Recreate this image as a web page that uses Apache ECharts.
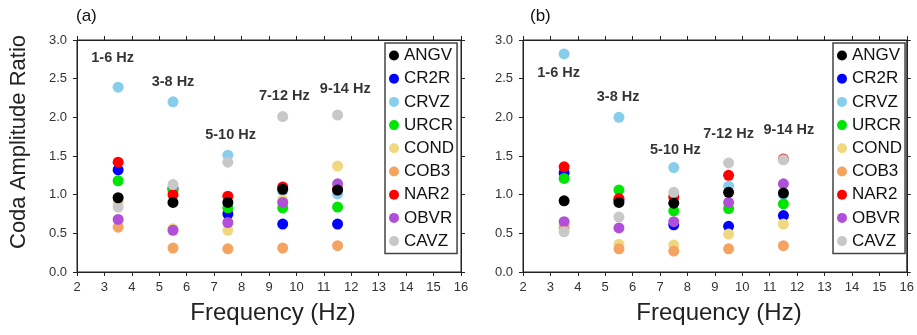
<!DOCTYPE html>
<html>
<head>
<meta charset="utf-8">
<script src="https://cdn.jsdelivr.net/npm/echarts@6/dist/echarts.min.js"></script>
<style>
  html, body { margin: 0; padding: 0; background: #fff; }
  #chart { width: 917px; height: 335px; }
</style>
</head>
<body>
<div id="chart"></div>
<script>
// centre frequencies of the five bands
const freqs = [3.5, 5.5, 7.5, 9.5, 11.5];

const stations = ["ANGV", "CR2R", "CRVZ", "URCR", "COND", "COB3", "NAR2", "OBVR", "CAVZ"];
const colors = ["#000000", "#0000ff", "#87ceeb", "#00e600", "#f0d880", "#f4a460", "#ff0000", "#b050d8", "#c8c8c8"];
// order in which the dots get painted (black ends up on top)
const drawOrder = ["CR2R", "CRVZ", "URCR", "COND", "COB3", "NAR2", "OBVR", "CAVZ", "ANGV"];

// panel (a)
const angvA = [0.96, 0.90, 0.90, 1.07, 1.06];
const cr2rA = [1.32, 1.08, 0.75, 0.62, 0.62];
const crvzA = [2.39, 2.20, 1.51, 1.05, 1.01];
const urcrA = [1.18, 1.05, 0.83, 0.83, 0.84];
const condA = [0.90, 0.56, 0.54, 0.93, 1.37];
const cob3A = [0.58, 0.31, 0.30, 0.31, 0.34];
const nar2A = [1.42, 1.00, 0.98, 1.10, 1.07];
const obvrA = [0.68, 0.54, 0.64, 0.90, 1.14];
const cavzA = [0.84, 1.13, 1.42, 2.01, 2.03];

// panel (b)
const angvB = [0.92, 0.90, 0.89, 1.03, 1.02];
const cr2rB = [1.28, 0.93, 0.61, 0.59, 0.73];
const crvzB = [2.82, 2.00, 1.35, 1.11, 1.00];
const urcrB = [1.21, 1.06, 0.79, 0.82, 0.88];
const condB = [0.59, 0.36, 0.35, 0.49, 0.62];
const cob3B = [0.57, 0.30, 0.27, 0.30, 0.34];
const nar2B = [1.36, 0.95, 0.97, 1.25, 1.46];
const obvrB = [0.65, 0.57, 0.65, 0.90, 1.14];
const cavzB = [0.52, 0.71, 1.03, 1.41, 1.45];

// band labels: [x, y, text]
const bandLabelsA = [[3.3, 2.77, "1-6 Hz"], [5.5, 2.46, "3-8 Hz"], [7.6, 1.77, "5-10 Hz"], [9.56, 2.28, "7-12 Hz"], [11.78, 2.37, "9-14 Hz"]];
const bandLabelsB = [[3.3, 2.57, "1-6 Hz"], [5.47, 2.26, "3-8 Hz"], [7.56, 1.58, "5-10 Hz"], [9.5, 1.79, "7-12 Hz"], [11.7, 1.84, "9-14 Hz"]];

const valuesA = { ANGV: angvA, CR2R: cr2rA, CRVZ: crvzA, URCR: urcrA, COND: condA, COB3: cob3A, NAR2: nar2A, OBVR: obvrA, CAVZ: cavzA };
const valuesB = { ANGV: angvB, CR2R: cr2rB, CRVZ: crvzB, URCR: urcrB, COND: condB, COB3: cob3B, NAR2: nar2B, OBVR: obvrB, CAVZ: cavzB };

const font = "Liberation Sans, Arial, sans-serif";
const axisColor = "#222";

function xAxisFor(gridIndex, position) {
  return {
    type: "value", gridIndex, min: 2, max: 16, interval: 1, position,
    axisLine: { show: true, onZero: false, lineStyle: { color: axisColor, width: 1 } },
    axisTick: { show: true, length: 4, lineStyle: { color: axisColor } },
    axisLabel: { show: position === "bottom", color: "#333", fontSize: 13, fontFamily: font, margin: 9 },
    splitLine: { show: false }
  };
}
function yAxisFor(gridIndex, position) {
  return {
    type: "value", gridIndex, min: 0, max: 3, interval: 0.5, position,
    axisLine: { show: true, onZero: false, lineStyle: { color: axisColor, width: 1 } },
    axisTick: { show: true, length: 4, lineStyle: { color: axisColor } },
    axisLabel: { show: position === "left", color: "#333", fontSize: 13, fontFamily: font, margin: 10, formatter: v => v.toFixed(1) },
    splitLine: { show: false }
  };
}

function stationSeries(values, xIdx, yIdx) {
  return drawOrder.map(name => ({
    name, type: "scatter", xAxisIndex: xIdx, yAxisIndex: yIdx,
    symbol: "circle", symbolSize: 11,
    itemStyle: { color: colors[stations.indexOf(name)], opacity: 1 },
    data: values[name].map((v, i) => [freqs[i], v])
  }));
}
// band labels sit on the mirrored top/right axes (same scales)
function labelSeries(labels, xIdx, yIdx) {
  return {
    type: "scatter", xAxisIndex: xIdx, yAxisIndex: yIdx, symbolSize: 0, silent: true,
    label: {
      show: true, position: "inside", formatter: p => p.data[2],
      color: "#000", fontSize: 14.5, fontWeight: "bold", fontFamily: font
    },
    data: labels
  };
}

function legendAt(left) {
  return {
    data: stations, orient: "vertical", left, top: 43,
    icon: "circle", itemWidth: 10, itemHeight: 10, itemGap: 6.2, itemTextGap: 4,
    padding: [4, 3, 4, 4],
    backgroundColor: "#fff",
    borderColor: "#444", borderWidth: 1.5,
    textStyle: { color: "#111", fontSize: 17, fontFamily: font },
    selectedMode: false
  };
}

const chart = echarts.init(document.getElementById("chart"), null, { renderer: "canvas" });
chart.setOption({
  animation: false,
  grid: [
    { left: 77, top: 40, width: 384, height: 232, show: true, borderColor: axisColor, borderWidth: 1 },
    { left: 523, top: 40, width: 388, height: 232, show: true, borderColor: axisColor, borderWidth: 1 }
  ],
  xAxis: [xAxisFor(0, "bottom"), xAxisFor(0, "top"), xAxisFor(1, "bottom"), xAxisFor(1, "top")],
  yAxis: [yAxisFor(0, "left"), yAxisFor(0, "right"), yAxisFor(1, "left"), yAxisFor(1, "right")],
  legend: [legendAt(385), legendAt(833)],
  series: [
    ...stationSeries(valuesA, 0, 0),
    labelSeries(bandLabelsA, 1, 1),
    ...stationSeries(valuesB, 2, 2),
    labelSeries(bandLabelsB, 3, 3)
  ],
  graphic: [
    { type: "text", left: 76, top: 8, style: { text: "(a)", fontSize: 17, fontFamily: font, fill: "#111" } },
    { type: "text", left: 530, top: 8, style: { text: "(b)", fontSize: 17, fontFamily: font, fill: "#111" } },
    { type: "text", x: 273, y: 313, style: { text: "Frequency (Hz)", fontSize: 24, fontFamily: font, fill: "#222", align: "center", verticalAlign: "middle" } },
    { type: "text", x: 719, y: 313, style: { text: "Frequency (Hz)", fontSize: 24, fontFamily: font, fill: "#222", align: "center", verticalAlign: "middle" } },
    { type: "text", x: 19, y: 142, rotation: Math.PI / 2, style: { text: "Coda Amplitude Ratio", fontSize: 22, fontFamily: font, fill: "#222", align: "center", verticalAlign: "middle" } }
  ]
});
window.addEventListener("resize", () => chart.resize());
</script>
</body>
</html>
